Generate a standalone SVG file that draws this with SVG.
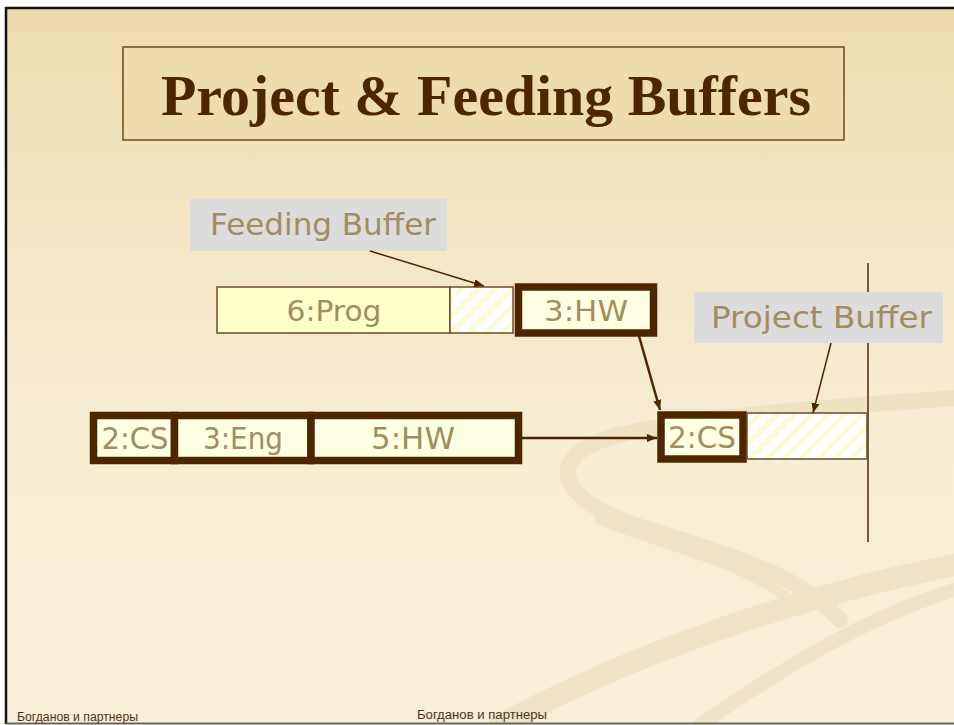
<svg xmlns="http://www.w3.org/2000/svg" width="954" height="725" viewBox="0 0 954 725">
<defs>
<linearGradient id="bg" x1="0" y1="0" x2="0" y2="1">
<stop offset="0" stop-color="#eddbad"/>
<stop offset="0.3" stop-color="#f4e6c4"/>
<stop offset="0.6" stop-color="#f7edd3"/>
<stop offset="1" stop-color="#f8efd6"/>
</linearGradient>
<pattern id="hatch" width="12" height="12" patternUnits="userSpaceOnUse" patternTransform="rotate(45)">
<rect width="12" height="12" fill="#ffffff"/>
<rect width="5" height="12" fill="#fcfbd8"/>
</pattern>
<marker id="ahs" viewBox="0 0 10 10" refX="10" refY="5" markerWidth="10" markerHeight="10" orient="auto" markerUnits="userSpaceOnUse">
<path d="M0,1 L10,5 L0,9 z" fill="#4d2600"/>
</marker>
</defs>
<style>
.lbl{font-family:"DejaVu Sans",sans-serif;fill:#a38d5f;text-anchor:middle}
.thin{fill:#ffffcc;stroke:#6b4a28;stroke-width:1.5}
.thick{fill:#ffffe4;stroke:#4d2600;stroke-width:7.5}
.buf{fill:url(#hatch);stroke:#6b4a28;stroke-width:1.5}
.note{fill:#dcdcdc}
.conn{stroke:#4d2600;fill:none}
.foot{font-family:"Liberation Sans",Arial,sans-serif;font-size:12.5px;fill:#4d3319}
.sw{fill:none;stroke:#e6d8b4;stroke-linecap:round}
</style>
<rect x="0" y="0" width="954" height="725" fill="#ffffff"/>
<rect x="6" y="8" width="960" height="716" fill="url(#bg)"/>
<g id="swooshes" opacity="0.45">
<path class="sw" stroke-width="16" d="M954 398 C 820 408, 640 420, 590 445 C 545 470, 570 505, 650 530 C 730 555, 800 575, 840 620"/>
<path class="sw" stroke-width="10" d="M600 520 C 660 545, 740 560, 790 600"/>
<path class="sw" stroke-width="22" d="M500 725 C 620 660, 780 600, 954 565"/>
<path class="sw" stroke-width="14" d="M700 725 C 780 670, 860 620, 954 590"/>
</g>
<line x1="6" y1="8" x2="954" y2="8" stroke="#111" stroke-width="2.5"/>
<line x1="6" y1="7" x2="6" y2="724" stroke="#111" stroke-width="2.5"/>
<line x1="6" y1="723.5" x2="954" y2="723.5" stroke="#666" stroke-width="2"/>
<g id="title">
<rect x="123" y="47" width="721" height="93" fill="#eedcae" stroke="#6b4a20" stroke-width="1.5"/>
<text x="486" y="115" font-family="'Liberation Serif','Times New Roman',serif" font-weight="bold" font-size="57" fill="#4d2600" text-anchor="middle" textLength="650" lengthAdjust="spacingAndGlyphs">Project &amp; Feeding Buffers</text>
</g>
<g id="deadline">
<line x1="868" y1="263" x2="868" y2="542" stroke="#6b4a28" stroke-width="1.8"/>
</g>
<g id="feeding-buffer-label">
<rect class="note" x="190" y="199" width="257" height="52"/>
<text class="lbl" x="323" y="235" font-size="30" textLength="226" lengthAdjust="spacingAndGlyphs">Feeding Buffer</text>
</g>
<g id="project-buffer-label">
<rect class="note" x="694" y="292" width="249" height="51"/>
<text class="lbl" x="821.5" y="328" font-size="30" textLength="221" lengthAdjust="spacingAndGlyphs">Project Buffer</text>
</g>
<g id="prog6">
<rect class="thin" x="217" y="287" width="233" height="46"/>
<text class="lbl" x="334" y="321" font-size="28" textLength="95" lengthAdjust="spacingAndGlyphs">6:Prog</text>
</g>
<g id="feeding-buffer">
<rect class="buf" x="450" y="287" width="63" height="46"/>
</g>
<g id="hw3">
<rect class="thick" x="518.5" y="287" width="135" height="46"/>
<text class="lbl" x="586" y="321" font-size="28" textLength="84" lengthAdjust="spacingAndGlyphs">3:HW</text>
</g>
<g id="cs2-left">
<rect class="thick" x="93.5" y="415.5" width="81" height="45"/>
<text class="lbl" x="135" y="449" font-size="30" textLength="67" lengthAdjust="spacingAndGlyphs">2:CS</text>
</g>
<g id="eng3">
<rect class="thick" x="174.5" y="415.5" width="136.5" height="45"/>
<text class="lbl" x="243" y="449" font-size="30" textLength="80" lengthAdjust="spacingAndGlyphs">3:Eng</text>
</g>
<g id="hw5">
<rect class="thick" x="311" y="415.5" width="207.5" height="45"/>
<text class="lbl" x="413" y="449" font-size="30" textLength="84" lengthAdjust="spacingAndGlyphs">5:HW</text>
</g>
<g id="cs2-right">
<rect class="thick" x="661" y="415" width="82" height="44"/>
<text class="lbl" x="702" y="448" font-size="30" textLength="68" lengthAdjust="spacingAndGlyphs">2:CS</text>
</g>
<g id="project-buffer">
<rect class="buf" x="747" y="413" width="120" height="46"/>
</g>
<g id="connectors">
<line class="conn" stroke-width="1.5" x1="370" y1="251" x2="484" y2="286" marker-end="url(#ahs)"/>
<line class="conn" stroke-width="1.5" x1="831" y1="343" x2="813" y2="413" marker-end="url(#ahs)"/>
<line class="conn" stroke-width="2.5" x1="639" y1="336" x2="660" y2="410" marker-end="url(#ahs)"/>
<line class="conn" stroke-width="2.5" x1="522" y1="438" x2="657" y2="438" marker-end="url(#ahs)"/>
</g>
<g id="footer">
<text class="foot" x="17" y="721" textLength="121" lengthAdjust="spacingAndGlyphs">Богданов и партнеры</text>
<text class="foot" x="417" y="719" textLength="130" lengthAdjust="spacingAndGlyphs">Богданов и партнеры</text>
</g>
</svg>
